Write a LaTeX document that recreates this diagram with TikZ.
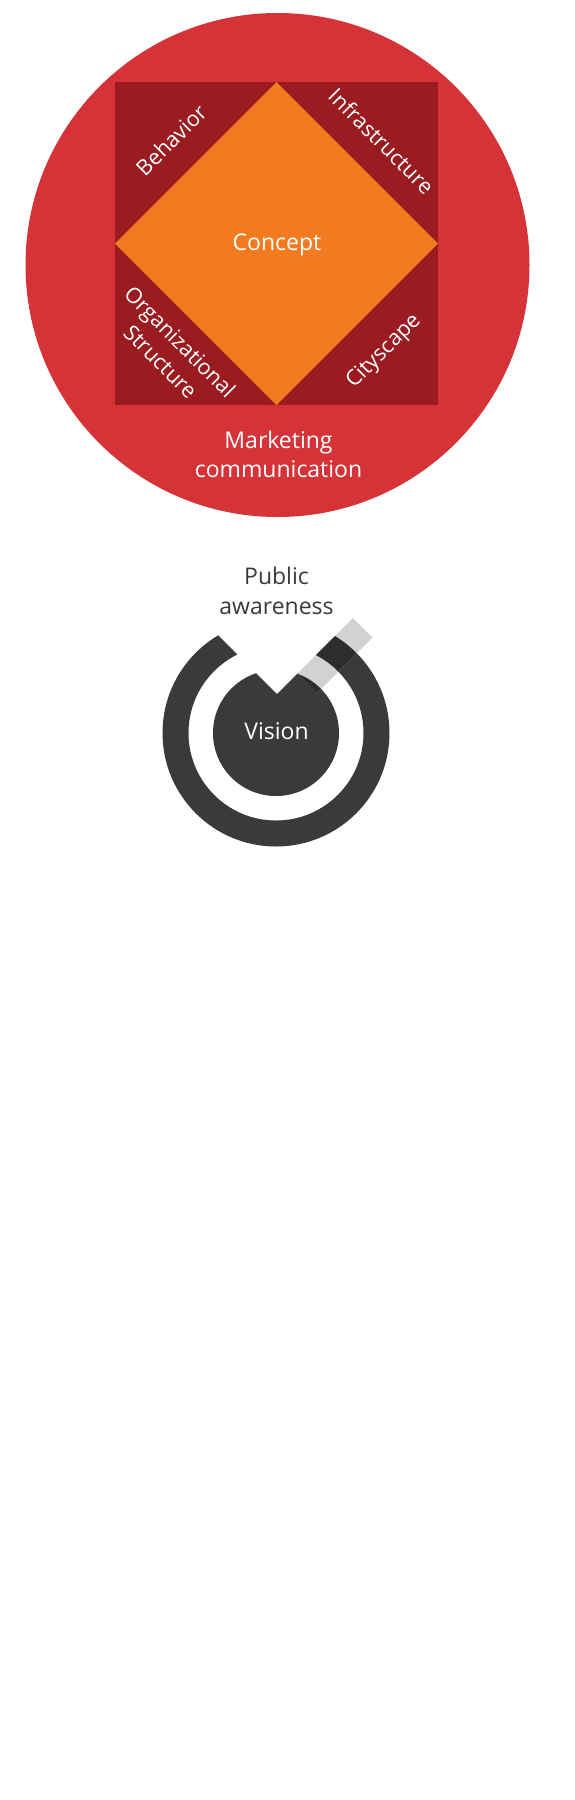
\documentclass[tikz,border=0pt]{standalone}
\usepackage{fontspec}
\setmainfont{Open Sans}
\definecolor{ringred}{HTML}{D63338}
\definecolor{darkred}{HTML}{9A1C20}
\definecolor{conceptorange}{HTML}{F27B21}
\definecolor{darkgray}{HTML}{3A3A3A}
\definecolor{bandgray}{HTML}{D1D2D4}
\definecolor{overlapgray}{HTML}{2D2D2D}
\begin{document}
\begin{tikzpicture}[x=1pt,y=1pt,
  lbl/.style={text=white,inner sep=0pt,font=\fontsize{21.5}{27.6}\selectfont},
  big/.style={inner sep=0pt,font=\fontsize{23}{29.4}\selectfont},
]
\useasboundingbox (0,0) rectangle (574,-1800);
\fill[white] (0,0) rectangle (574,-1800);
% top figure
\fill[ringred] (277.5,-265) circle (252);
\fill[darkred] (115,-82) rectangle (438,-405);
\fill[conceptorange] (276.5,-82) -- (438,-243.5) -- (276.5,-405) -- (115,-243.5) -- cycle;
\node[big, text=white, anchor=base] (concept) at (277,-250.7) {Concept};
\node[big, text=white, align=center] (mkt) at (278.5,-454.2) {Marketing\\communication};
\node[lbl, rotate=45] (behavior) at (171,-140) {Behavior};
\node[lbl, rotate=-45] (infra) at (381.5,-141) {Infrastructure};
\node[lbl, rotate=45] (city) at (384,-351.5) {Cityscape};
\node[lbl, rotate=-45, align=center] (org) at (170.5,-351.5) {Organizational\\Structure};
% bottom figure
\begin{scope}
  \clip (277,-694) -- (77,-494) -- (77,-900) -- (477,-900) -- (477,-494) -- cycle;
  \fill[darkgray, even odd rule] (276,-733) circle (113.5) (276,-733) circle (87.5);
  \fill[darkgray] (276,-733) circle (63);
\end{scope}
\fill[bandgray] (297.3,-673.7) -- (353,-618) -- (372.5,-637.5) -- (316.8,-693.2) -- cycle;
\begin{scope}
  \clip (297.3,-673.7) -- (353,-618) -- (372.5,-637.5) -- (316.8,-693.2) -- cycle;
  \fill[overlapgray, even odd rule] (276,-733) circle (113.5) (276,-733) circle (87.5);
  \fill[overlapgray] (276,-733) circle (63);
\end{scope}
\node[big, text=darkgray, align=center] (public) at (276.5,-590.8) {Public\\awareness};
\node[big, text=white, anchor=base] (vision) at (276.5,-739.3) {Vision};
\end{tikzpicture}
\end{document}
